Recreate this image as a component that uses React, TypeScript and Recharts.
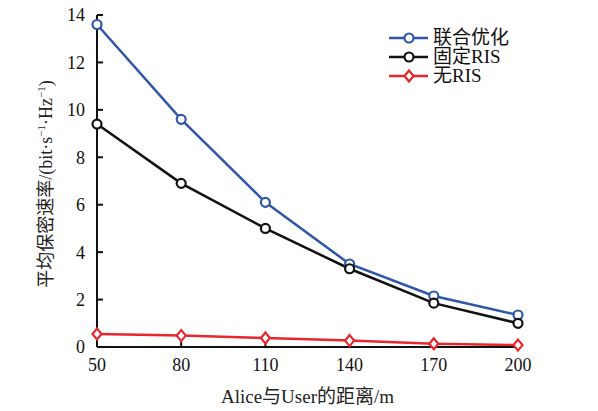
import React from "react";
import { LineChart, Line, XAxis, YAxis } from "recharts";

const distances = [50, 80, 110, 140, 170, 200];
const jointOpt = [13.6, 9.6, 6.1, 3.5, 2.15, 1.35];
const fixedRis = [9.4, 6.9, 5.0, 3.3, 1.85, 1.0];
const noRis = [0.55, 0.48, 0.38, 0.27, 0.14, 0.08];
const xTicks = [50, 80, 110, 140, 170, 200];
const yTicks = [0, 2, 4, 6, 8, 10, 12, 14];

const BLUE = "#2f56a8";
const BLACK = "#111111";
const RED = "#e8262c";
const FONT = "Liberation Serif, DejaVu Serif, Noto Sans CJK SC, serif";

const data = distances.map((d, i) => ({
  d,
  joint: jointOpt[i],
  fixed: fixedRis[i],
  none: noRis[i],
}));

const series = [
  { key: "joint", name: "联合优化", color: BLUE, shape: "circle" },
  { key: "fixed", name: "固定RIS", color: BLACK, shape: "circle" },
  { key: "none", name: "无RIS", color: RED, shape: "diamond" },
];

function Marker({ cx, cy, color, shape }: any) {
  if (cx == null || cy == null) return null;
  if (shape === "diamond") {
    return (
      <path
        d={`M${cx},${cy - 5.5} L${cx + 4.5},${cy} L${cx},${cy + 5.5} L${cx - 4.5},${cy} Z`}
        fill="#fff"
        stroke={color}
        strokeWidth={2.2}
      />
    );
  }
  return <circle cx={cx} cy={cy} r={4.5} fill="#fff" stroke={color} strokeWidth={2.2} />;
}

function LegendBox() {
  return (
    <div
      style={{
        position: "absolute",
        left: 388,
        top: 28,
        fontFamily: FONT,
        fontSize: 19,
        color: "#111",
        lineHeight: "19px",
      }}
    >
      {series.map((s) => (
        <div key={s.key} style={{ display: "flex", alignItems: "center", height: 19 }}>
          <svg width={41} height={19}>
            <line x1={1} y1={10} x2={40} y2={10} stroke={s.color} strokeWidth={2.5} />
            <Marker cx={21} cy={10} color={s.color} shape={s.shape} />
          </svg>
          <span style={{ marginLeft: 4 }}>{s.name}</span>
        </div>
      ))}
    </div>
  );
}

function YLabel() {
  return (
    <text
      transform="translate(52,184) rotate(-90)"
      textAnchor="middle"
      fontFamily={FONT}
      fontSize={18}
      fill="#222"
    >
      平均保密速率/(bit·s
      <tspan dy={-7} fontSize={11}>−1</tspan>
      <tspan dy={7}>·Hz</tspan>
      <tspan dy={-7} fontSize={11}>−1</tspan>
      <tspan dy={7}>)</tspan>
    </text>
  );
}

export default function App() {
  return (
    <div style={{ position: "absolute", left: 0, top: 0, width: 598, height: 411, background: "#fff" }}>
      <LineChart width={598} height={411} data={data} margin={{ top: 15, right: 80, left: 0, bottom: 0 }}>
        <XAxis
          dataKey="d"
          type="number"
          domain={[50, 200]}
          ticks={xTicks}
          height={64}
          stroke={BLACK}
          strokeWidth={2}
          tickSize={-5}
          tickMargin={16}
          tick={{ fill: "#111", fontSize: 18, fontFamily: FONT }}
          label={{
            value: "Alice与User的距离/m",
            position: "insideBottom",
            offset: 8,
            fill: "#222",
            fontSize: 19,
            fontFamily: FONT,
          }}
        />
        <YAxis
          type="number"
          domain={[0, 14]}
          ticks={yTicks}
          width={97}
          stroke={BLACK}
          strokeWidth={2}
          tickSize={-6}
          tickMargin={18}
          tick={{ fill: "#111", fontSize: 18, fontFamily: FONT }}
          label={<YLabel />}
        />
        {series.map((s) => (
          <Line
            key={s.key}
            dataKey={s.key}
            name={s.name}
            stroke={s.color}
            strokeWidth={2.5}
            isAnimationActive={false}
            dot={(p: any) => <Marker key={`${s.key}-${p.index}`} cx={p.cx} cy={p.cy} color={s.color} shape={s.shape} />}
          />
        ))}
      </LineChart>
      <LegendBox />
    </div>
  );
}
